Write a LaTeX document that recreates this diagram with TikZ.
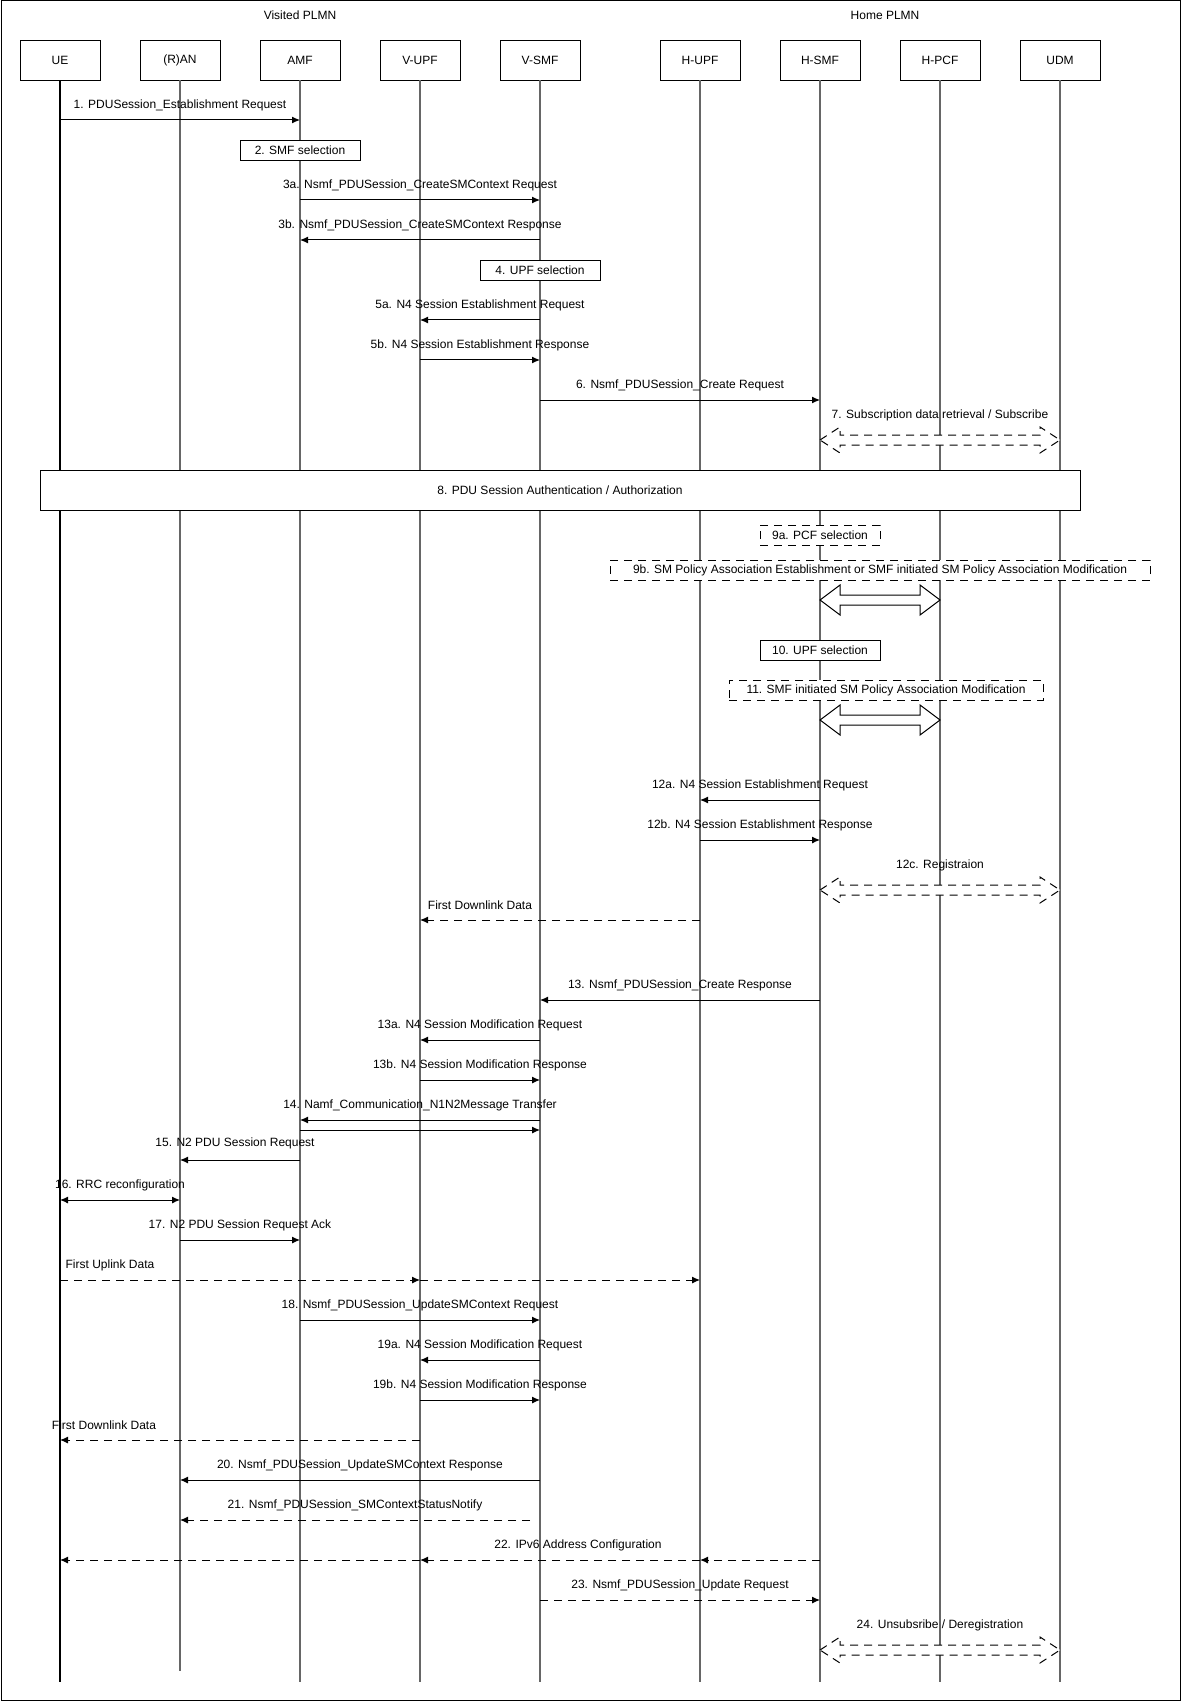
\documentclass[tikz,border=0pt]{standalone}
\usepackage{fontspec}
\setmainfont{Liberation Sans}
\usetikzlibrary{arrows.meta}
\tikzset{
  actor/.style={draw,minimum width=40pt,minimum height=20pt,inner sep=0pt,font=\fontsize{6}{7}\selectfont},
  life/.style={draw=black!60,line width=0.6pt},
  lbl/.style={font=\fontsize{6}{7}\selectfont,inner sep=1pt},
  msgline/.style={line width=0.5pt,-{Latex[length=4pt,width=3.5pt]}},
  dmsg/.style={msgline,dash pattern=on 4pt off 3pt},
  stepbox/.style={draw,fill=white,font=\fontsize{6}{7}\selectfont,inner sep=0pt,minimum height=10pt},
  dbox/.style={stepbox,dash pattern=on 4pt off 3pt},
}
\newcommand\msg[5][msgline]{%
  \draw[#1] (#3,#2) -- (#4,#2);
  \node[lbl] at ({(#3+#4)/2},#2-15) {#5};}
\newcommand\blk[4][solid]{% y, x1, x2
  \draw[#1,fill=white,line width=0.5pt] (#3,#2) -- (#3+20,#2-#4) -- (#3+20,#2-5) -- (#3+20,#2-5) -- (#3+200-20+ 0,#2-5) coordinate (tmp) -- cycle;}
\newcommand\barrow[4][solid]{% style, y, xl, xr, headhalf
  \draw[#1,fill=white,line width=0.5pt] (#3,#2) -- (#3+20,#2-#4) -- (#3+20,#2-5) -- (\xr-20,#2-5) -- (\xr-20,#2-#4) -- (\xr,#2) -- (\xr-20,#2+#4) -- (\xr-20,#2+5) -- (#3+20,#2+5) -- (#3+20,#2+#4) -- cycle;}
\begin{document}
\begin{tikzpicture}[x=0.5pt,y=-0.5pt]
\useasboundingbox (0,0) rectangle (1181,1701);
\draw[line width=0.5pt] (1,1) rectangle (1180,1700);
\node[lbl] at (300,15) {Visited PLMN};
\node[lbl] at (885,15) {Home PLMN};
\foreach \n/\x/\t/\e in {ue/60/UE/1682,ran/180/(R)AN/1671,amf/300/AMF/1682,vupf/420/V-UPF/1682,vsmf/540/V-SMF/1682,hupf/700/H-UPF/1682,hsmf/820/H-SMF/1682,hpcf/940/H-PCF/1682,udm/1060/UDM/1682}{
  \node[actor] (\n) at (\x,60) {\t};
  \draw[life] (\n.south) -- (\x,\e);
}
\draw[line width=0.6pt] (ue.south) -- (60,1682);
\msg{120}{60}{300}{1. PDUSession\_Establishment Request}
\node[stepbox,minimum width=60pt] (s2) at (300,150) {2. SMF selection};
\msg{200}{300}{540}{3a. Nsmf\_PDUSession\_CreateSMContext Request}
\msg{240}{540}{300}{3b. Nsmf\_PDUSession\_CreateSMContext Response}
\node[stepbox,minimum width=60pt] (s4) at (540,270) {4. UPF selection};
\msg{320}{540}{420}{5a. N4 Session Establishment Request}
\msg{360}{420}{540}{5b. N4 Session Establishment Response}
\msg{400}{540}{820}{6. Nsmf\_PDUSession\_Create Request}
\node[lbl] at (940,415) {7. Subscription data retrieval / Subscribe};
\def\xr{1060}
\barrow[dash pattern=on 4pt off 3pt]{440}{820}{13}
\node[stepbox,minimum width=520pt,minimum height=20pt] (s8) at (560,490) {8. PDU Session Authentication / Authorization};
\node[dbox,minimum width=60pt] (s9a) at (820,535) {9a. PCF selection};
\node[dbox,minimum width=270pt] (s9b) at (880,570) {9b. SM Policy Association Establishment or SMF initiated SM Policy Association Modification};
\def\xr{940}
\barrow{600}{820}{15}
\node[stepbox,minimum width=60pt] (s10) at (820,650) {10. UPF selection};
\node[dbox,minimum width=157pt] (s11) at (886,690) {11. SMF initiated SM Policy Association Modification};
\barrow{720}{820}{15}
\msg{800}{820}{700}{12a. N4 Session Establishment Request}
\msg{840}{700}{820}{12b. N4 Session Establishment Response}
\node[lbl] at (940,865) {12c. Registraion};
\def\xr{1060}
\barrow[dash pattern=on 4pt off 3pt]{890}{820}{13}
\draw[dmsg] (700,920) -- (420,920);
\node[lbl] at (480,905) {First Downlink Data};
\msg{1000}{820}{540}{13. Nsmf\_PDUSession\_Create Response}
\msg{1040}{540}{420}{13a. N4 Session Modification Request}
\msg{1080}{420}{540}{13b. N4 Session Modification Response}
\msg{1120}{540}{300}{14. Namf\_Communication\_N1N2Message Transfer}
\draw[msgline] (300,1130) -- (540,1130);
\draw[msgline] (300,1160) -- (180,1160);
\node[lbl] at (235,1143) {15. N2 PDU Session Request};
\draw[msgline,{Latex[length=4pt,width=3.5pt]}-{Latex[length=4pt,width=3.5pt]}] (60,1200) -- (180,1200);
\node[lbl] at (120,1185) {16. RRC reconfiguration};
\msg{1240}{180}{300}{17. N2 PDU Session Request Ack}
\draw[dmsg] (60,1280) -- (420,1280);
\draw[dmsg] (420,1280) -- (700,1280);
\node[lbl] at (110,1265) {First Uplink Data};
\msg{1320}{300}{540}{18. Nsmf\_PDUSession\_UpdateSMContext Request}
\msg{1360}{540}{420}{19a. N4 Session Modification Request}
\msg{1400}{420}{540}{19b. N4 Session Modification Response}
\draw[dmsg] (420,1440) -- (60,1440);
\node[lbl] at (104,1425) {First Downlink Data};
\msg{1480}{540}{180}{20. Nsmf\_PDUSession\_UpdateSMContext Response}
\msg[dmsg]{1520}{530}{180}{21. Nsmf\_PDUSession\_SMContextStatusNotify}
\draw[dmsg] (820,1560) -- (700,1560);
\draw[dmsg] (700,1560) -- (420,1560);
\draw[dmsg] (420,1560) -- (60,1560);
\node[lbl] at (578,1545) {22. IPv6 Address Configuration};
\msg[dmsg]{1600}{540}{820}{23. Nsmf\_PDUSession\_Update Request}
\node[lbl] at (940,1625) {24. Unsubsribe / Deregistration};
\barrow[dash pattern=on 4pt off 3pt]{1650}{820}{13}
\end{tikzpicture}
\end{document}
